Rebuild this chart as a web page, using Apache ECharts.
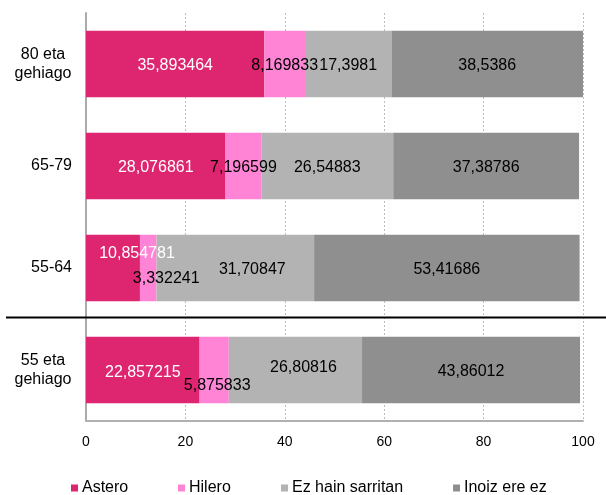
<!DOCTYPE html>
<html>
<head>
<meta charset="utf-8">
<script src="https://cdn.jsdelivr.net/npm/echarts@6/dist/echarts.min.js"></script>
<style>
  html, body { margin: 0; padding: 0; background: #fff; }
  #chart { width: 606px; height: 495px; }
</style>
</head>
<body>
<div id="chart"></div>
<script>
// Age groups, top to bottom
const categories = ['80 eta\ngehiago', '65-79', '55-64', '55 eta\ngehiago'];
const seriesNames = ['Astero', 'Hilero', 'Ez hain sarritan', 'Inoiz ere ez'];

// Shares (%) per answer, one value per age group
const astero = [35.893464, 28.076861, 10.854781, 22.857215];
const hilero = [8.169833, 7.196599, 3.332241, 5.875833];
const ezHainSarritan = [17.3981, 26.54883, 31.70847, 26.80816];
const inoizEreEz = [38.5386, 37.38786, 53.41686, 43.86012];

const xTicks = { min: 0, max: 100, interval: 20 };

// Styling
const colors = ['#DE2670', '#FF84D6', '#B3B3B3', '#8F8F8F'];
const labelColors = ['#ffffff', '#000000', '#000000', '#000000'];
const FONT = 'Liberation Sans, Arial, sans-serif';

// Label nudges [dx, dy] per series and age group, to keep crowded labels apart
const labelOffsets = [
  [[0, 2], [0, 2], [24, -14], [0, 3]],
  [[0, 2], [0, 2], [18, 11], [3, 16]],
  [[0, 2], [0, 2], [17, 2], [8, -2]],
  [[0, 2], [0, 2], [0, 2], [0, 2]]
];

const seriesValues = [astero, hilero, ezHainSarritan, inoizEreEz];
const legendLefts = [71, 178, 281, 453];

const chart = echarts.init(document.getElementById('chart'), null, { renderer: 'canvas' });

const series = seriesNames.map((name, si) => ({
  name: name,
  type: 'bar',
  stack: 'total',
  barWidth: '65%',
  itemStyle: { color: colors[si] },
  emphasis: { disabled: true },
  label: {
    show: true,
    position: 'inside',
    color: labelColors[si],
    fontFamily: FONT,
    fontSize: 16,
    formatter: p => String(p.value).replace('.', ',')
  },
  labelLayout: p => {
    const o = labelOffsets[p.seriesIndex][p.dataIndex];
    return { dx: o[0], dy: o[1], hideOverlap: false };
  },
  data: seriesValues[si]
}));

const legends = seriesNames.map((name, i) => ({
  data: [name],
  left: legendLefts[i],
  top: 480,
  padding: 0,
  icon: 'rect',
  itemWidth: 7,
  itemHeight: 7,
  itemGap: 0,
  selectedMode: false,
  textStyle: { fontFamily: FONT, fontSize: 16, color: '#000', padding: [0, 0, 0, -1] }
}));

// Two-line category names are centred line by line in a block ending at the label anchor
const yAxisData = categories.map(c => c.indexOf('\n') >= 0
  ? { value: c, textStyle: { align: 'center', padding: [0, 58, 0, 0] } }
  : c);

chart.setOption({
  animation: false,
  backgroundColor: '#ffffff',
  color: colors,
  legend: legends,
  grid: { left: 86, right: 23, top: 13, bottom: 74, containLabel: false },
  xAxis: {
    type: 'value',
    min: xTicks.min,
    max: xTicks.max,
    interval: xTicks.interval,
    axisLine: { show: true, lineStyle: { color: '#B0B0B0', width: 2 } },
    axisTick: { show: false },
    axisLabel: { fontFamily: FONT, fontSize: 14, color: '#000', margin: 14 },
    splitLine: { show: true, lineStyle: { color: '#BDBDBD', type: [2, 2], width: 1 } }
  },
  yAxis: {
    type: 'category',
    inverse: true,
    data: yAxisData,
    axisLine: { show: true, lineStyle: { color: '#AAAAAA', width: 2 } },
    axisTick: { show: false },
    axisLabel: {
      fontFamily: FONT,
      fontSize: 16,
      color: '#000',
      margin: 14,
      lineHeight: 19
    }
  },
  series: series
});

// Divider between the age bands and the overall group
const yA = chart.convertToPixel({ yAxisIndex: 0 }, categories[2]);
const yB = chart.convertToPixel({ yAxisIndex: 0 }, categories[3]);
const yMid = Math.round((yA + yB) / 2) - 1.5;
chart.setOption({
  graphic: [{
    type: 'line',
    shape: { x1: 6, y1: yMid, x2: 606, y2: yMid },
    style: { stroke: '#000000', lineWidth: 2 },
    z: 100
  }]
});
</script>
</body>
</html>
